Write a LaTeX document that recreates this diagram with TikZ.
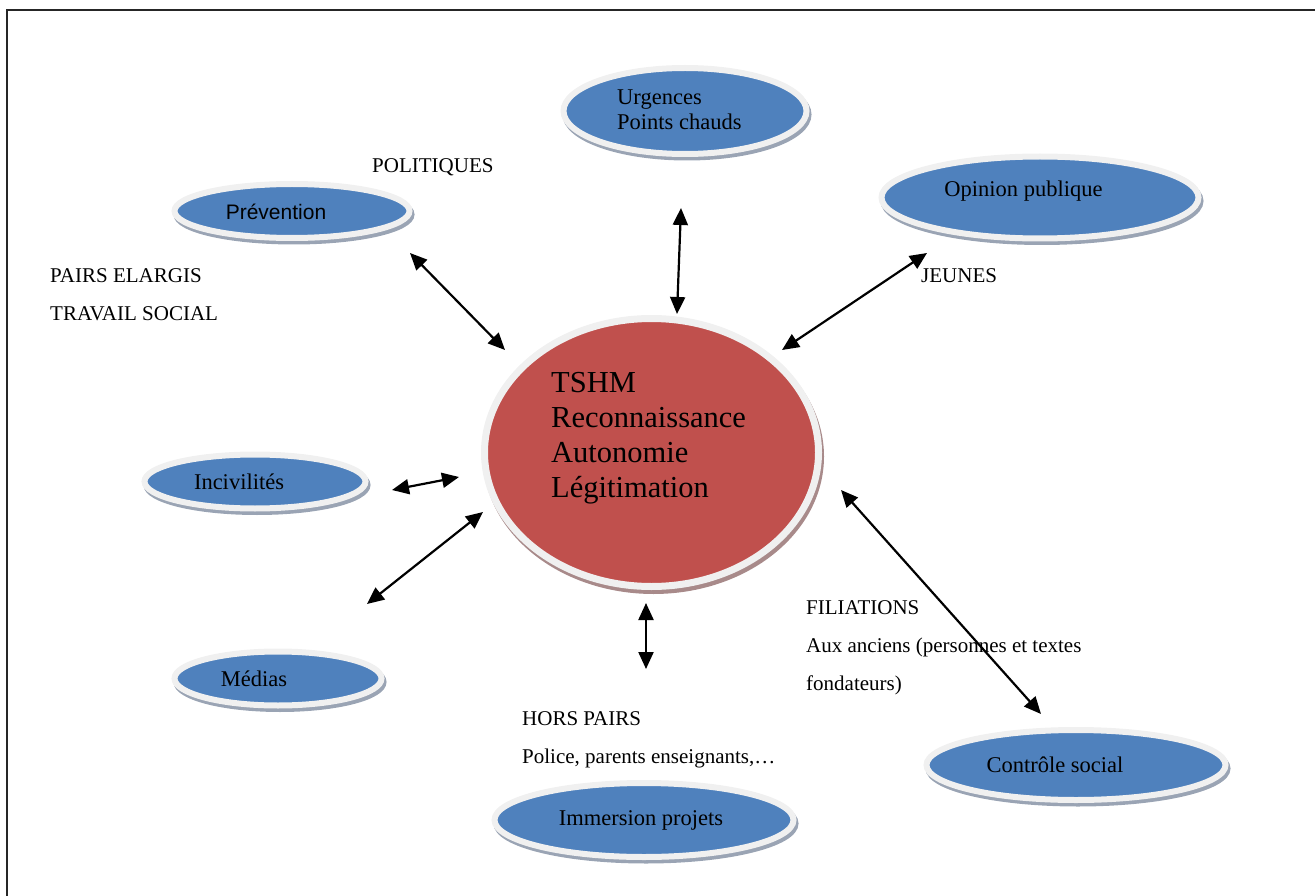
\documentclass[tikz,border=0pt]{standalone}
\usepackage{fontspec}
\setmainfont{Liberation Serif}
\newfontfamily\sansf{Liberation Sans}
\usetikzlibrary{shapes.geometric,arrows.meta}
\definecolor{blueF}{HTML}{4F81BD}
\definecolor{redF}{HTML}{C0504D}
\definecolor{rimC}{HTML}{F0F0F0}
\definecolor{shB}{HTML}{9AA4B4}
\definecolor{shR}{HTML}{A88A8A}
\begin{document}
\begin{tikzpicture}[x=1pt,y=1pt,
  bub/.style={ellipse, inner sep=0pt, fill=blueF, draw=rimC, line width=6pt,
    preaction={draw=shB, line width=6pt, transform canvas={shift={(2pt,-3.5pt)}}}},
  bigbub/.style={ellipse, inner sep=0pt, fill=redF, draw=rimC, line width=7pt,
    preaction={draw=shR, line width=7pt, transform canvas={shift={(2pt,-4pt)}}}},
  btxt/.style={inner sep=0pt, font=\fontsize{22.5}{25}\selectfont},
  lbl/.style={inner sep=0pt, anchor=base west, font=\fontsize{21}{25}\selectfont},
  biarrow/.style={<->, >={Triangle[length=17pt,width=15pt]}, line width=2.2pt, black},
]
\useasboundingbox (0,0) rectangle (1315,-896);
\draw[line width=2pt, black!85] (7,-905) -- (7,-10) -- (1325,-10);

% ellipses
\node[bigbub, minimum width=334pt, minimum height=268pt] (tshm) at (651.5,-452.5) {};
\node[bub, minimum width=243pt, minimum height=86pt] (urg) at (685,-111) {};
\node[bub, minimum width=235pt, minimum height=54pt] (prev) at (292,-211) {};
\node[bub, minimum width=317pt, minimum height=82pt] (opin) at (1040,-197.5) {};
\node[bub, minimum width=221pt, minimum height=54pt] (inc) at (255,-481.5) {};
\node[bub, minimum width=207pt, minimum height=54pt] (med) at (278,-678.5) {};
\node[bub, minimum width=299pt, minimum height=74pt] (imm) at (644,-820) {};
\node[bub, minimum width=299pt, minimum height=70pt] (ctrl) at (1076,-765) {};

% ellipse texts
\node[inner sep=0pt, anchor=west, align=left, font=\fontsize{30.5}{35}\selectfont] (tshmT) at (551,-438) {TSHM\\Reconnaissance\\Autonomie\\Légitimation};
\node[btxt, anchor=west, align=left] (urgT) at (617,-110) {Urgences\\Points chauds};
\node[inner sep=0pt, anchor=base, font=\sansf\fontsize{21}{25}\selectfont] (prevT) at (276,-220) {Prévention};
\node[btxt, anchor=base] (opinT) at (1023.5,-197) {Opinion publique};
\node[btxt, anchor=base] (incT) at (239,-489) {Incivilités};
\node[btxt, anchor=base] (medT) at (254,-686) {Médias};
\node[btxt, anchor=base] (immT) at (641,-825) {Immersion projets};
\node[btxt, anchor=base] (ctrlT) at (1055,-772) {Contrôle social};

% free labels
\node[lbl] (pol) at (372,-173) {POLITIQUES};
\node[lbl] (pairs) at (50,-283) {PAIRS ELARGIS};
\node[lbl] (trav) at (50,-320) {TRAVAIL SOCIAL};
\node[lbl] (jeun) at (921,-283) {JEUNES};
\node[lbl] (fil) at (806,-614) {FILIATIONS};
\node[lbl] (aux) at (806,-652) {Aux anciens (personnes et textes};
\node[lbl] (fond) at (806,-690) {fondateurs)};
\node[lbl] (hors) at (522,-725) {HORS PAIRS};
\node[lbl] (pol2) at (522,-763) {Police, parents enseignants,…};

% arrow end points
\coordinate (p1) at (410,-253);  \coordinate (p2) at (505,-350);
\coordinate (u1) at (681,-208);  \coordinate (u2) at (677,-314);
\coordinate (o1) at (927,-253);  \coordinate (o2) at (782,-350);
\coordinate (i1) at (392,-490);  \coordinate (i2) at (459,-477);
\coordinate (m1) at (367,-604);  \coordinate (m2) at (483,-512);
\coordinate (b1) at (646,-603);  \coordinate (b2) at (646,-669);
\coordinate (c1) at (841,-490);  \coordinate (c2) at (1041,-714);

\draw[biarrow] (p1) -- (p2);
\draw[biarrow] (u1) -- (u2);
\draw[biarrow] (o1) -- (o2);
\draw[biarrow] (i1) -- (i2);
\draw[biarrow] (m1) -- (m2);
\draw[biarrow] (b1) -- (b2);
\draw[biarrow] (c1) -- (c2);
\end{tikzpicture}
\end{document}
